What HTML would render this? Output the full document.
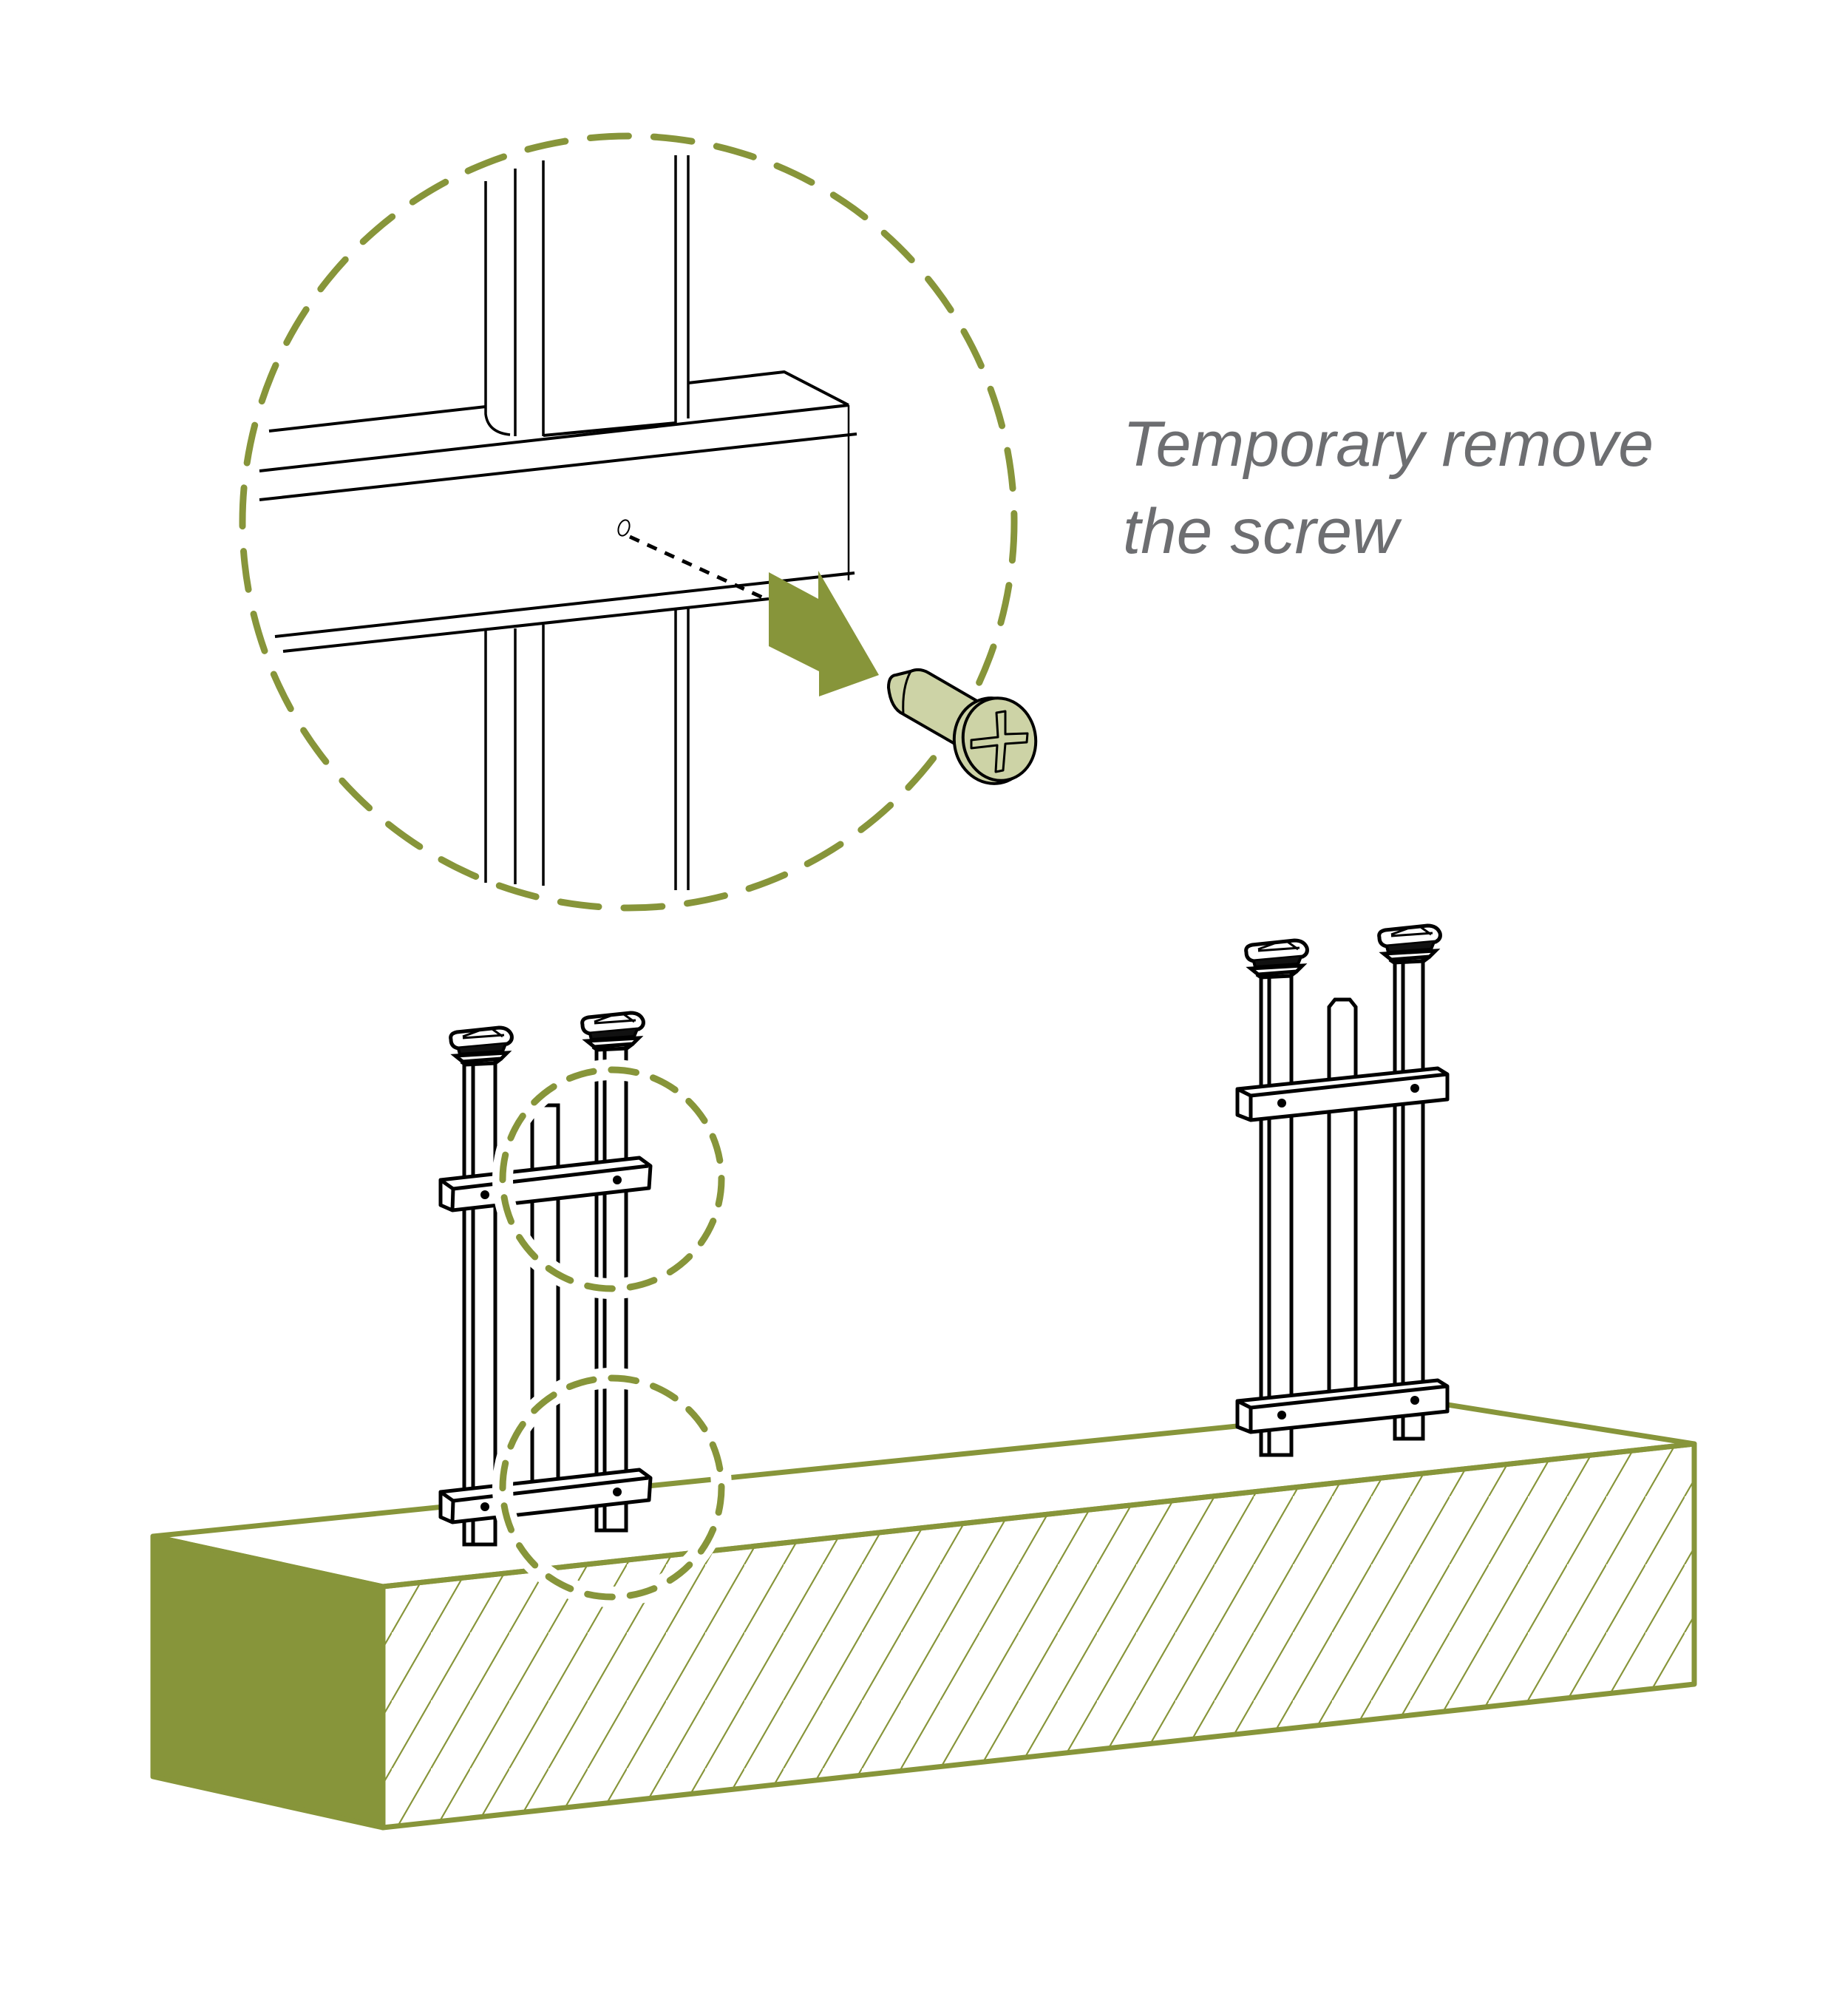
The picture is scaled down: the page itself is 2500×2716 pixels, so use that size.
<!DOCTYPE html>
<html><head><meta charset="utf-8"><style>html,body{margin:0;padding:0;background:#fff}svg{display:block}</style></head>
<body>
<svg width="2500" height="2716" viewBox="0 0 2500 2716" xmlns="http://www.w3.org/2000/svg">
<defs>
<pattern id="h" patternUnits="userSpaceOnUse" width="53" height="92">
<line x1="-53" y1="184" x2="53" y2="0" stroke="#87953a" stroke-width="2"/>
<line x1="0" y1="92" x2="53" y2="0" stroke="#87953a" stroke-width="2"/>
<line x1="0" y1="184" x2="106" y2="0" stroke="#87953a" stroke-width="2"/>
</pattern>
<g id="cap">
<path d="M-20,14 Q-22,6 -12,4 L45,-2 Q58,-2 62,8 Q64,16 56,20 L-10,26 Q-20,24 -20,14 Z" fill="#fff" stroke="#000" stroke-width="5"/>
<path d="M-4,10 L18,2 M36,0 L50,10 M-4,12 L52,8" fill="none" stroke="#000" stroke-width="3"/>
<path d="M-10,26 L-8,34 L50,30 L54,20" fill="#111" stroke="#000" stroke-width="4"/>
<path d="M-14,36 L-4,44 L48,40 L56,32 Z" fill="#fff" stroke="#000" stroke-width="5"/>
<path d="M-6,44 L0,48 L40,46 L48,40" fill="none" stroke="#000" stroke-width="5"/>
</g>
</defs>

<!-- Block -->
<polygon points="207,2078 518,2146 2292,1953 1958,1900" fill="#fff" stroke="#87953a" stroke-width="7" stroke-linejoin="round"/>
<polygon points="518,2146 2292,1953 2292,2278 518,2472" fill="url(#h)" stroke="#87953a" stroke-width="7" stroke-linejoin="round"/>
<polygon points="207,2078 518,2146 518,2472 207,2403" fill="#87953a" stroke="#87953a" stroke-width="7" stroke-linejoin="round"/>

<!-- Left fence -->
<g stroke="#000" stroke-width="5" fill="#fff">
<rect x="628" y="1420" width="42" height="669"/>
<line x1="640" y1="1420" x2="640" y2="2089"/>
<rect x="720" y="1495" width="35" height="520"/>
<rect x="807" y="1400" width="40" height="670"/>
<line x1="818" y1="1400" x2="818" y2="2070"/>
</g>
<use href="#cap" x="630" y="1392"/>
<use href="#cap" x="808" y="1372"/>
<g stroke="#000" stroke-width="5" fill="#fff" stroke-linejoin="round">
<polygon points="596,1596 865,1566 880,1577 878,1607 612,1637 596,1630"/>
<polyline points="596,1596 613,1608 877,1577" fill="none"/>
<line x1="613" y1="1608" x2="612" y2="1637"/>
<polygon points="596,2018 865,1988 880,1999 878,2029 612,2059 596,2052"/>
<polyline points="596,2018 613,2030 877,1999" fill="none"/>
<line x1="613" y1="2030" x2="612" y2="2059"/>
</g>
<g fill="#000"><circle cx="656" cy="1616" r="6"/><circle cx="835" cy="1596" r="6"/><circle cx="656" cy="2038" r="6"/><circle cx="835" cy="2018" r="6"/></g>

<!-- Right fence -->
<g stroke="#000" stroke-width="5" fill="#fff">
<rect x="1706" y="1302" width="41" height="666"/>
<line x1="1717" y1="1302" x2="1717" y2="1968"/>
<path d="M1798,1880 L1798,1362 L1806,1352 L1826,1352 L1834,1362 L1834,1880"/>
<rect x="1887" y="1282" width="38" height="664"/>
<line x1="1898" y1="1282" x2="1898" y2="1946"/>
</g>
<use href="#cap" x="1706" y="1274"/>
<use href="#cap" x="1886" y="1254"/>
<g stroke="#000" stroke-width="5" fill="#fff" stroke-linejoin="round">
<polygon points="1674,1473 1945,1445 1958,1453 1958,1487 1692,1515 1674,1508"/>
<polyline points="1674,1473 1692,1482 1958,1453" fill="none"/>
<line x1="1692" y1="1482" x2="1692" y2="1515"/>
<polygon points="1674,1895 1945,1867 1958,1875 1958,1909 1692,1937 1674,1930"/>
<polyline points="1674,1895 1692,1904 1958,1875" fill="none"/>
<line x1="1692" y1="1904" x2="1692" y2="1937"/>
</g>
<g fill="#000"><circle cx="1734" cy="1492" r="6"/><circle cx="1914" cy="1472" r="6"/><circle cx="1734" cy="1914" r="6"/><circle cx="1914" cy="1894" r="6"/></g>

<!-- small circles -->
<g fill="none">
<circle cx="828" cy="1595" r="148" stroke="#fff" stroke-width="28"/>
<circle cx="828" cy="1595" r="148" stroke="#87953a" stroke-width="9" stroke-dasharray="34 24" stroke-linecap="round"/>
<circle cx="828" cy="2012" r="148" stroke="#fff" stroke-width="28"/>
<circle cx="828" cy="2012" r="148" stroke="#87953a" stroke-width="9" stroke-dasharray="34 24" stroke-linecap="round"/>
</g>

<!-- Big zoom circle contents -->
<g stroke="#000" stroke-width="3.5" fill="none">
<path d="M657,245 L657,560 Q660,585 690,588"/>
<line x1="697" y1="228" x2="697" y2="590"/>
<line x1="735" y1="217" x2="735" y2="590"/>
<line x1="914" y1="210" x2="914" y2="572"/>
<line x1="931" y1="210" x2="931" y2="566"/>
<line x1="657" y1="852" x2="657" y2="1194"/>
<line x1="697" y1="850" x2="697" y2="1196"/>
<line x1="735" y1="845" x2="735" y2="1198"/>
<line x1="914" y1="825" x2="914" y2="1204"/>
<line x1="931" y1="822" x2="931" y2="1204"/>
</g>
<g stroke="#000" stroke-width="4" fill="none" stroke-linejoin="round">
<polyline points="364,583 657,550"/>
<polyline points="735,589 914,572"/>
<polyline points="931,518 1061,503 1148,548 Q1158,560 1159,587 L1159,790 Q1158,798 1150,800"/>
<line x1="1148" y1="548" x2="1148" y2="785" stroke-width="2.5"/>
<line x1="351" y1="637" x2="1148" y2="548"/>
<line x1="351" y1="676" x2="1159" y2="587"/>
<line x1="372" y1="861" x2="1156" y2="775"/>
<line x1="383" y1="881" x2="1040" y2="810"/>
</g>
<ellipse cx="844" cy="714" rx="7" ry="11" transform="rotate(20 844 714)" fill="none" stroke="#000" stroke-width="2"/>
<line x1="852" y1="726" x2="1040" y2="812" stroke="#000" stroke-width="5" stroke-dasharray="14 12"/>

<circle cx="850" cy="706" r="522" fill="none" stroke="#87953a" stroke-width="9" stroke-dasharray="52 34" stroke-linecap="round"/>

<polygon points="1040,774 1107,810 1107,772 1189,913 1108,942 1108,908 1040,874" fill="#87953a"/>

<!-- Screw -->
<g stroke="#000" stroke-width="4" fill="#cdd3a6" stroke-linejoin="round">
<path d="M1232,908 Q1244,903 1256,910 L1325,950 L1295,1008 L1222,966 Q1205,958 1202,930 Q1202,914 1212,913 Z"/>
<path d="M1212,913 Q1220,912 1232,908 Q1220,930 1222,966" fill="none" stroke-width="3"/>
<ellipse cx="1343" cy="1002" rx="52" ry="58" transform="rotate(-10 1343 1002)"/>
<ellipse cx="1352" cy="1000" rx="49" ry="56" transform="rotate(-10 1352 1000)"/>
<path d="M1348,964 L1360,962 L1360,993 L1390,992 L1389,1004 L1360,1006 L1357,1042 L1347,1044 L1349,1008 L1314,1012 L1314,1001 L1350,997 Z" fill="#cdd3a6" stroke-width="3"/>
</g>

<!-- Text -->
<g font-family="Liberation Sans, sans-serif" font-style="italic" fill="#6d6e71" font-size="86">
<text x="1519" y="630" textLength="718" lengthAdjust="spacingAndGlyphs">Temporary remove</text>
<text x="1519" y="748" textLength="373" lengthAdjust="spacingAndGlyphs">the screw</text>
</g>
</svg>
</body></html>
